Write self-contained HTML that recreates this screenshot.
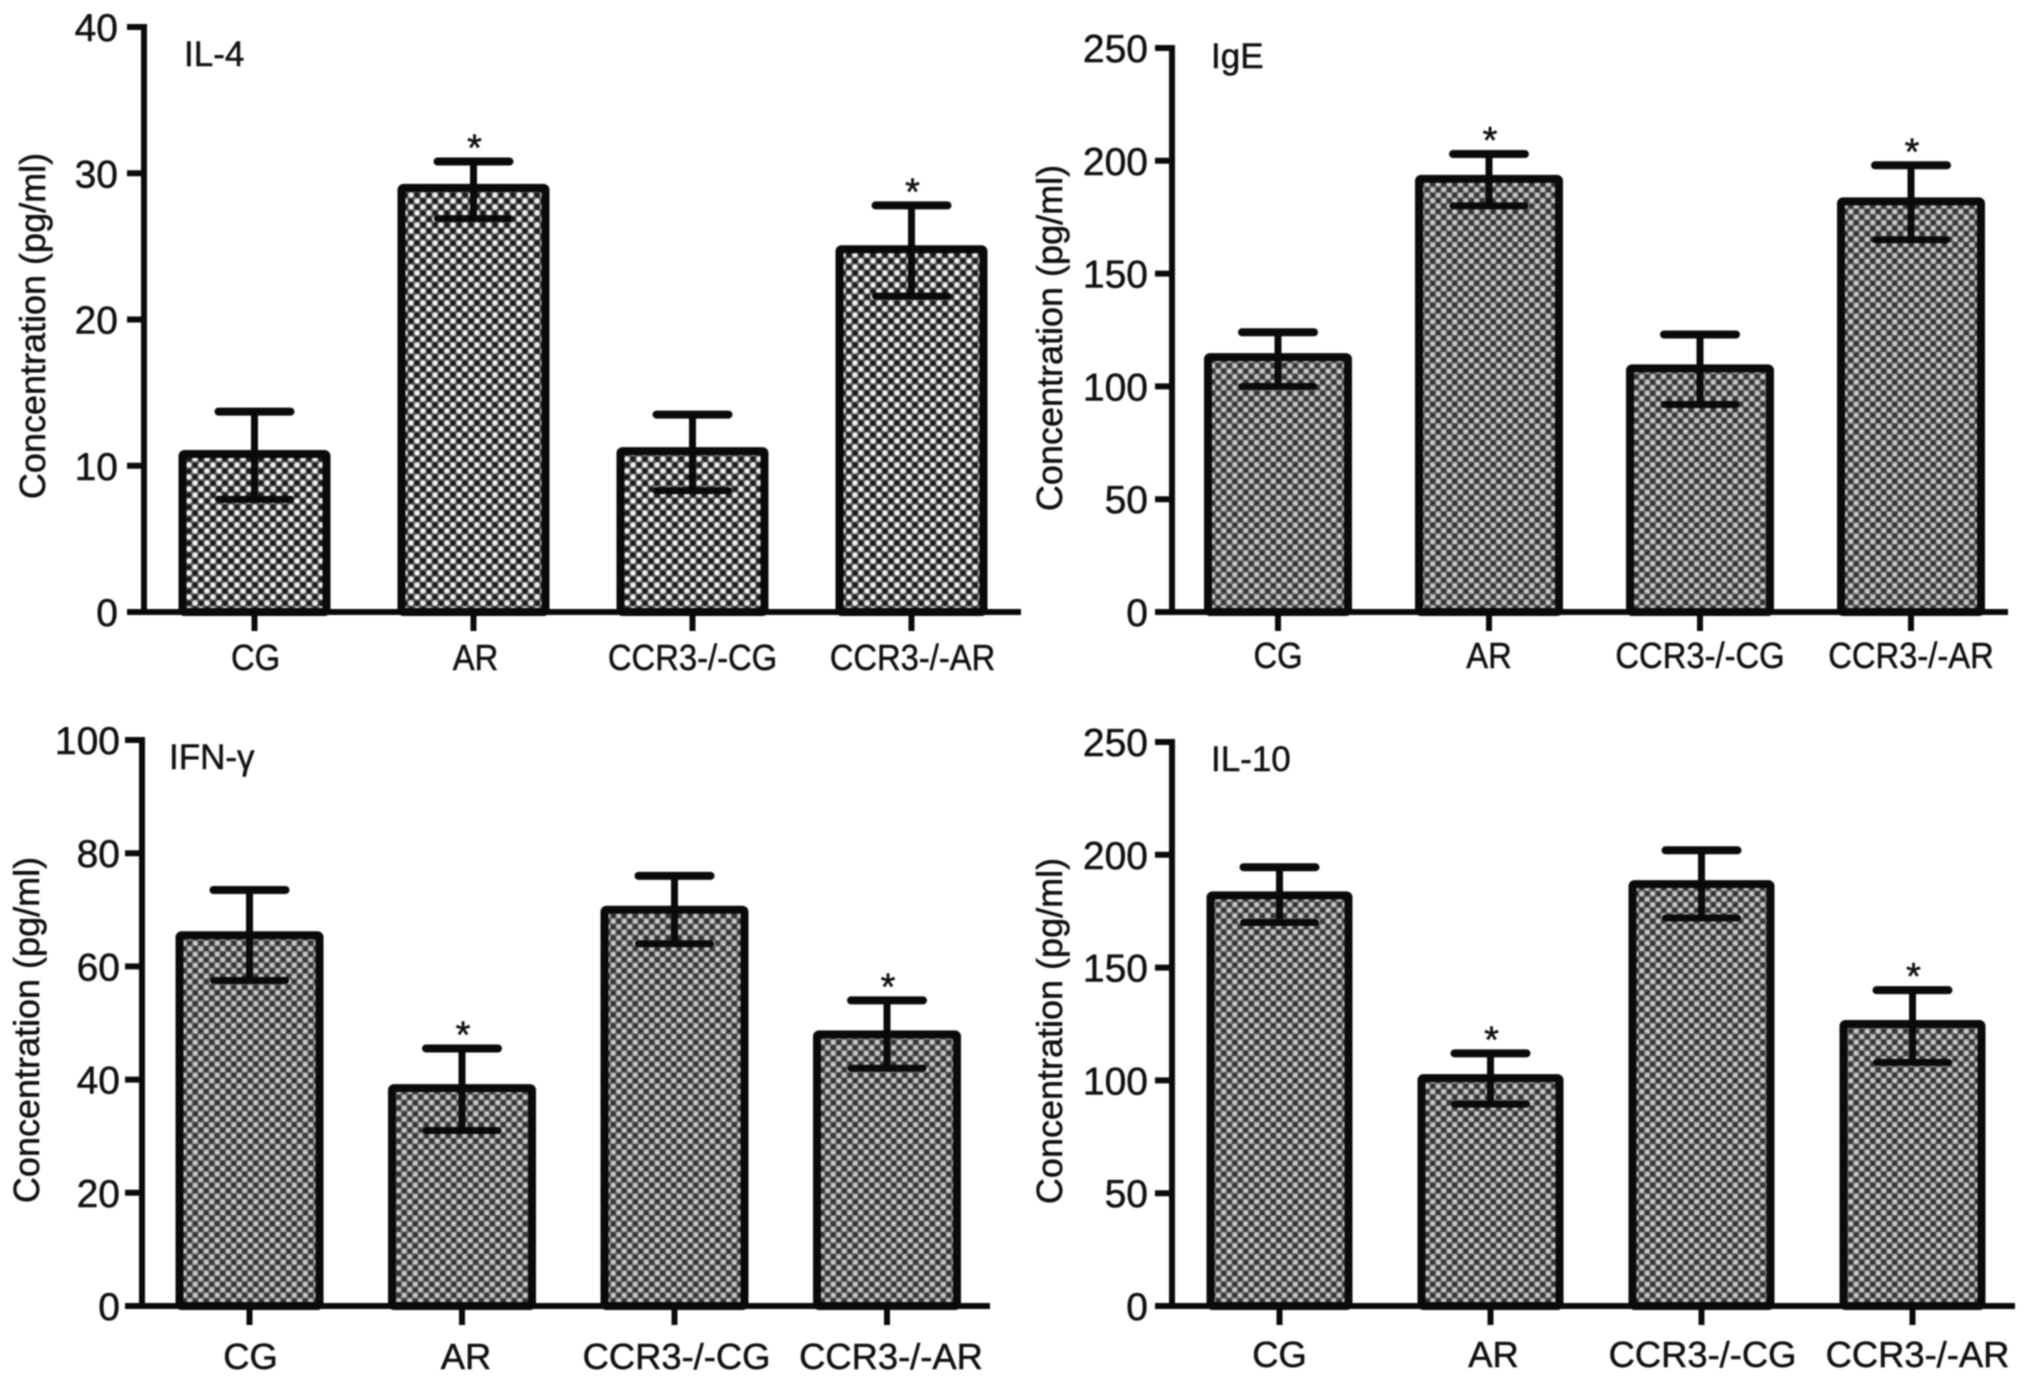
<!DOCTYPE html>
<html lang="en">
<head>
<meta charset="utf-8">
<title>Cytokine concentration bar charts</title>
<style>
html,body{margin:0;padding:0;background:#fff;width:2031px;height:1381px;overflow:hidden}
svg{display:block;filter:blur(0.9px)}
text{font-family:"Liberation Sans","DejaVu Sans",sans-serif;fill:#111;stroke:#111;stroke-width:0.5px}
</style>
</head>
<body>
<svg id="figure" xmlns="http://www.w3.org/2000/svg" width="2031" height="1381" viewBox="0 0 2031 1381">
<defs>
<pattern id="dotsA" width="12" height="12" patternUnits="userSpaceOnUse">
<rect width="12" height="12" fill="#5e5e5e"/>
<circle cx="3" cy="3" r="2.7" fill="#efefef"/><circle cx="9" cy="9" r="2.7" fill="#efefef"/>
<circle cx="9" cy="3" r="2.6" fill="#1a1a1a"/><circle cx="3" cy="9" r="2.6" fill="#1a1a1a"/>
</pattern>
<pattern id="dotsB" width="11" height="11" patternUnits="userSpaceOnUse">
<rect width="11" height="11" fill="#6a6a6a"/>
<circle cx="2.75" cy="2.75" r="2.5" fill="#c8c8c8"/><circle cx="8.25" cy="8.25" r="2.5" fill="#c8c8c8"/>
<circle cx="8.25" cy="2.75" r="2.5" fill="#333"/><circle cx="2.75" cy="8.25" r="2.5" fill="#333"/>
</pattern>
</defs>
</svg>
<script>
// Shared categories
const categories = ['CG', 'AR', 'CCR3-/-CG', 'CCR3-/-AR'];

// IL-4
const il4Values = [10.8, 29, 11, 24.8];
const il4Upper = [13.7, 30.8, 13.5, 27.8];
const il4Lower = [7.7, 26.9, 8.3, 21.6];
const il4Significant = [false, true, false, true];
const il4Ticks = [0, 10, 20, 30, 40];

// IgE
const igeValues = [113, 192, 108, 182];
const igeUpper = [124, 203, 123, 198];
const igeLower = [100, 180, 92, 165];
const igeSignificant = [false, true, false, true];
const igeTicks = [0, 50, 100, 150, 200, 250];

// IFN-gamma
const ifnValues = [65.5, 38.5, 70, 48];
const ifnUpper = [73.5, 45.5, 76, 54];
const ifnLower = [57.5, 31, 64, 42];
const ifnSignificant = [false, true, false, true];
const ifnTicks = [0, 20, 40, 60, 80, 100];

// IL-10
const il10Values = [182, 101, 187, 125];
const il10Upper = [194.5, 112, 202, 140];
const il10Lower = [170, 89.5, 172, 108];
const il10Significant = [false, true, false, true];
const il10Ticks = [0, 50, 100, 150, 200, 250];

const panels = [
  {key:'il4', title:'IL-4', values:il4Values, upper:il4Upper, lower:il4Lower, sig:il4Significant, ticks:il4Ticks,
   axisX:144, y0:612, yTop:27, firstX:254.5, stepX:219, barW:152, axisEnd:1021, fill:'dotsA',
   titleX:184, titleY:66, tickRight:118, yTitleX:45, yTitleY:326, labelY:670, labelSx:0.91, labelDx:[1,2,0,1]},
  {key:'ige', title:'IgE', values:igeValues, upper:igeUpper, lower:igeLower, sig:igeSignificant, ticks:igeTicks,
   axisX:1172, y0:612, yTop:48, firstX:1278, stepX:211, barW:148, axisEnd:2008, fill:'dotsB',
   titleX:1211, titleY:68, tickRight:1148, yTitleX:1062, yTitleY:338, labelY:668, labelSx:0.91, labelDx:[0,0,0,0]},
  {key:'ifn', title:'IFN-\u03B3', values:ifnValues, upper:ifnUpper, lower:ifnLower, sig:ifnSignificant, ticks:ifnTicks,
   axisX:142, y0:1306, yTop:740, firstX:249.5, stepX:212.5, barW:148, axisEnd:990, fill:'dotsB',
   titleX:169, titleY:769, tickRight:120, yTitleX:39, yTitleY:1030, labelY:1369, labelSx:1.01, labelDx:[1,4,2,4]},
  {key:'il10', title:'IL-10', values:il10Values, upper:il10Upper, lower:il10Lower, sig:il10Significant, ticks:il10Ticks,
   axisX:1172, y0:1306, yTop:742, firstX:1279.5, stepX:211, barW:146, axisEnd:2015, fill:'dotsB',
   titleX:1211, titleY:771, tickRight:1148, yTitleX:1062, yTitleY:1031, labelY:1367, labelSx:1.01, labelDx:[0,3,1,5]}
];

const SVG_NS = 'http://www.w3.org/2000/svg';
const root = document.getElementById('figure');
const INK = '#0a0a0a';

function mk(tag, attrs, parent) {
  const node = document.createElementNS(SVG_NS, tag);
  for (const k in attrs) node.setAttribute(k, attrs[k]);
  parent.appendChild(node);
  return node;
}

panels.forEach(function (p) {
  const maxTick = p.ticks[p.ticks.length - 1];
  const yScale = function (v) { return p.y0 + (p.yTop - p.y0) * (v / maxTick); };
  const xScale = function (i) { return p.firstX + p.stepX * i; };

  const group = mk('g', {}, root);
  
  

  // Bars
  categories.forEach(function (cat, i) {
    const top = yScale(p.values[i]);
    const bar = mk('rect', {
      x: xScale(i) - p.barW / 2 + 4, y: top,
      width: p.barW - 8, height: p.y0 - top,
      rx: 2, fill: 'url(#' + p.fill + ')', stroke: INK, 'stroke-width': 8
    }, group);
    
    
  });

  // Error bars and significance markers
  categories.forEach(function (cat, i) {
    const cx = xScale(i);
    const yU = yScale(p.upper[i]);
    const yL = yScale(p.lower[i]);

    const stem = mk('line', {x1: cx, x2: cx, y1: yU, y2: yL, stroke: INK, 'stroke-width': 7}, group);
    
    

    const capU = mk('line', {x1: cx - 36, x2: cx + 36, y1: yU, y2: yU, stroke: INK, 'stroke-width': 8, 'stroke-linecap': 'round'}, group);
    
    

    const capL = mk('line', {x1: cx - 36, x2: cx + 36, y1: yL, y2: yL, stroke: INK, 'stroke-width': 7, 'stroke-linecap': 'round'}, group);
    
    

    if (p.sig[i]) {
      const star = mk('text', {x: cx + 1, y: yU - 1, 'text-anchor': 'middle', 'font-size': 38}, group);
      star.textContent = '*';
      
      
    }
  });

  // Axes
  const yAxis = mk('line', {x1: p.axisX, x2: p.axisX, y1: p.yTop - 3, y2: p.y0 + 3, stroke: INK, 'stroke-width': 6}, group);
  
  

  const xAxis = mk('line', {x1: p.axisX - 17, x2: p.axisEnd, y1: p.y0, y2: p.y0, stroke: INK, 'stroke-width': 6}, group);
  
  

  // Y ticks
  p.ticks.forEach(function (t) {
    const y = yScale(t);
    const tick = mk('line', {x1: p.axisX - 17, x2: p.axisX, y1: y, y2: y, stroke: INK, 'stroke-width': 6}, group);
    
    

    const lab = mk('text', {x: p.tickRight, y: y + 14, 'text-anchor': 'end', 'font-size': 39}, group);
    lab.textContent = String(t);
    
    
  });

  // X ticks and labels
  categories.forEach(function (cat, i) {
    const cx = xScale(i);
    const tick = mk('line', {x1: cx, x2: cx, y1: p.y0, y2: p.y0 + 19, stroke: INK, 'stroke-width': 6}, group);
    
    

    const lab = mk('text', {
      transform: 'translate(' + (cx + p.labelDx[i]) + ',' + p.labelY + ') scale(' + p.labelSx + ',1)',
      'text-anchor': 'middle', 'font-size': 36
    }, group);
    lab.textContent = cat;
    
    
  });

  // Titles
  const yTitle = mk('text', {
    transform: 'translate(' + p.yTitleX + ',' + p.yTitleY + ') rotate(-90)',
    'text-anchor': 'middle', 'font-size': 36
  }, group);
  yTitle.textContent = 'Concentration (pg/ml)';
  
  

  const title = mk('text', {x: p.titleX, y: p.titleY, 'font-size': 35}, group);
  title.textContent = p.title;
  
  
});
</script>
</body>
</html>
